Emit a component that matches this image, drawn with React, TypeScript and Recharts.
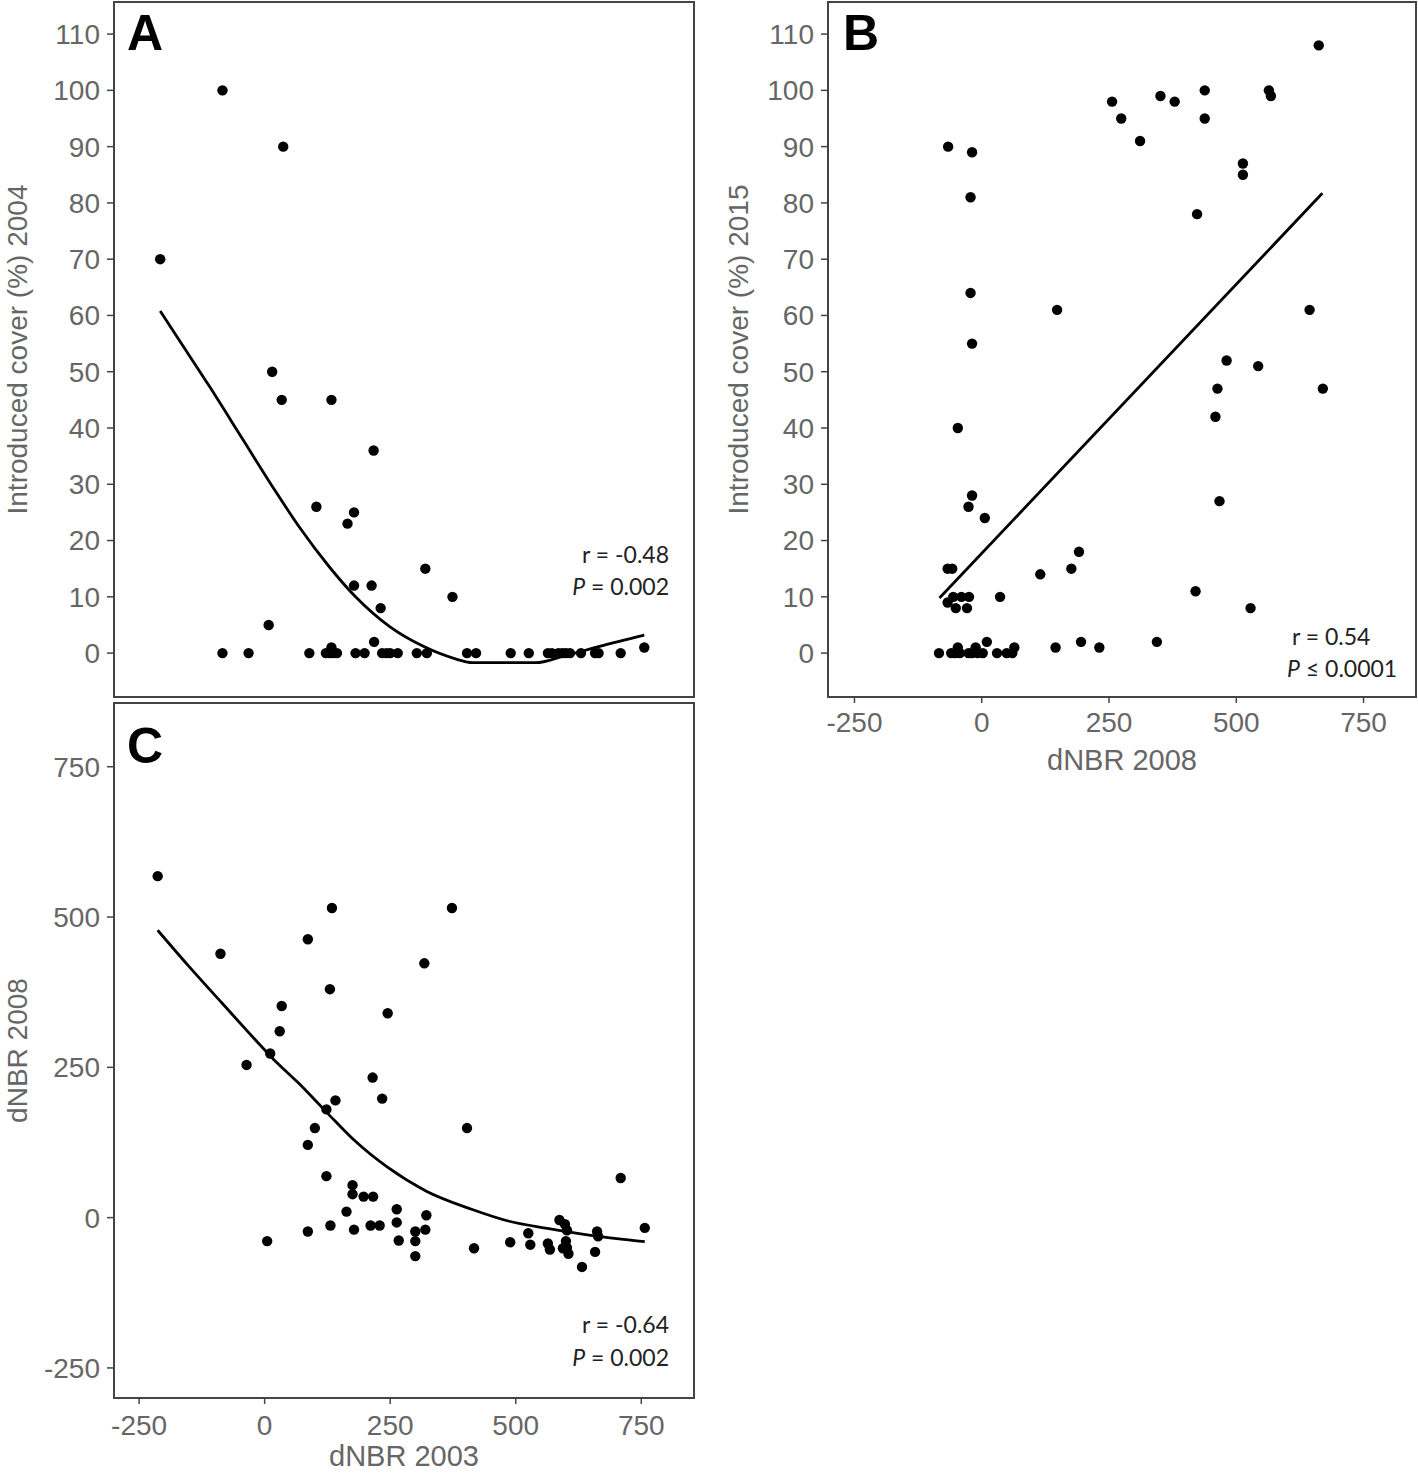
import { ScatterChart, Scatter, XAxis, YAxis, ReferenceArea } from 'recharts';

const FONT = '"Liberation Sans", Arial, sans-serif';
const GREY = '#666666';
const FRAME = '#444444';

const xTicks = [-250, 0, 250, 500, 750];
const coverTicks = [0, 10, 20, 30, 40, 50, 60, 70, 80, 90, 100, 110];
const dnbrTicks = [-250, 0, 250, 500, 750];

// A: dNBR 2003 vs introduced cover 2004
const aX = [
  -208, -84, 37, 15, 34, 133, 217, 103, 178, 165, 320, 178, 213, 374, 231, 8, 218, 133, 756,
  -84, -32, 89, 122, 129, 136, 144, 181, 199, 234, 243, 250, 265, 303, 323, 403, 421, 490,
  526, 564, 572, 585, 593, 600, 608, 630, 658, 665, 709,
];
const aY = [
  70, 100, 90, 50, 45, 45, 36, 26, 25, 23, 15, 12, 12, 10, 8, 5, 2, 1, 1,
  0, 0, 0, 0, 0, 0, 0, 0, 0, 0, 0, 0, 0, 0, 0, 0, 0, 0,
  0, 0, 0, 0, 0, 0, 0, 0, 0, 0, 0,
];
const aFitX = [-208, -170, -110, -43, 17, 69, 129, 181, 249, 316, 383, 413, 540, 593, 667, 756];
const aFitY = [60.8, 55.6, 47.4, 37.9, 29.4, 22.4, 15.3, 10, 4.7, 1.2, -1.1, -1.7, -1.7, -0.6, 1.2, 3.2];

// B: dNBR 2008 vs introduced cover 2015
const bX = [
  662, 256, 351, 379, 438, 564, 568, 274, 438, 311, -66, -19, 513, 513, -22, 423, -22, 148, 644, -19,
  481, 543, 463, 670, 459, -47, 467, -19, -26, 6, 191, 176, 115, -67, -58, 420, 528,
  -56, -40, -25, 36, -67, -51, -29, 344, 195, 10, 145, 231, 64, -47, -12,
  -84, -60, -52, -43, -26, -19, -8, 2, 30, 49, 60,
];
const bY = [
  108, 98, 99, 98, 100, 100, 99, 95, 95, 91, 90, 89, 87, 85, 81, 78, 64, 61, 61, 55,
  52, 51, 47, 47, 42, 40, 27, 28, 26, 24, 18, 15, 14, 15, 15, 11, 8,
  10, 10, 10, 10, 9, 8, 8, 2, 2, 2, 1, 1, 1, 1, 1,
  0, 0, 0, 0, 0, 0, 0, 0, 0, 0, 0,
];
const bFitX = [-83, 669];
const bFitY = [9.8, 81.7];

// C: dNBR 2003 vs dNBR 2008
const cX = [
  -213, 134, 373, 86, -88, 318, 130, 34, 245, 30, 11, -36, 215, 234, 141, 123, 100, 403, 86, 123,
  709, 175, 175, 197, 216, 163, 263, 322, 263, 131, 211, 229, 587, 598, 757, 525, 602, 662, 664,
  86, 178, 300, 320, 300, 267, 5, 489, 529, 564, 568, 600, 602, 594, 605, 417, 300, 658, 632,
];
const cY = [
  568, 515, 515, 463, 439, 423, 380, 352, 340, 310, 273, 254, 233, 198, 195, 180, 149, 149, 121, 69,
  66, 54, 39, 35, 35, 10, 14, 4, -8, -13, -13, -13, -4, -11, -17, -26, -21, -23, -31,
  -23, -20, -23, -20, -39, -38, -39, -41, -45, -43, -53, -39, -50, -51, -60, -51, -64, -57, -82,
];
const cFitX = [-213, -153, -85, -10, 17, 66, 126, 178, 246, 322, 412, 487, 563, 653, 757];
const cFitY = [478, 420, 357, 288, 264, 225, 173, 129, 83, 44, 14, -6, -18, -30, -40];

const zip = (xs: number[], ys: number[]) => xs.map((x, i) => ({ x, y: ys[i] }));

const tickStyle = { fill: GREY, fontSize: 28, fontFamily: FONT };

const dot = (p: any) => <circle cx={p.cx} cy={p.cy} r={5.2} fill="#000" />;
const noDot = () => <g />;

interface PanelProps {
  left: number;
  top: number;
  width: number;
  height: number;
  margin: { top: number; right: number; bottom: number; left: number };
  xDomain: [number, number];
  yDomain: [number, number];
  yTicks: number[];
  points: { x: number; y: number }[];
  fit: { x: number; y: number }[];
  yLabel: string;
  yLabelOffset: number;
  xLabel?: string;
  xAxisHeight?: number;
  xTickMargin?: number;
  xLabelOffset?: number;
}

function Panel(props: PanelProps) {
  const { left, top, width, height, margin, xDomain, yDomain, yTicks, points, fit } = props;
  const showX = !!props.xLabel;
  return (
    <div style={{ position: 'absolute', left, top }}>
      <ScatterChart width={width} height={height} margin={margin}>
        <XAxis
          type="number"
          dataKey="x"
          domain={xDomain}
          ticks={xTicks}
          interval={0}
          allowDataOverflow
          hide={!showX}
          height={props.xAxisHeight}
          tickSize={6}
          tickMargin={props.xTickMargin}
          tick={tickStyle}
          tickLine={{ stroke: FRAME, strokeWidth: 1.5 }}
          axisLine={false}
          label={
            showX
              ? {
                  value: props.xLabel,
                  position: 'insideBottom',
                  offset: props.xLabelOffset,
                  style: { fill: GREY, fontSize: 29, fontFamily: FONT },
                }
              : undefined
          }
        />
        <YAxis
          type="number"
          dataKey="y"
          domain={yDomain}
          ticks={yTicks}
          interval={0}
          allowDataOverflow
          width={114}
          tickSize={7}
          tickMargin={7}
          tick={tickStyle}
          tickLine={{ stroke: FRAME, strokeWidth: 1.5 }}
          axisLine={false}
          label={{
            value: props.yLabel,
            angle: -90,
            position: 'insideLeft',
            offset: props.yLabelOffset,
            style: { textAnchor: 'middle', fill: GREY, fontSize: 28, fontFamily: FONT },
          }}
        />
        <ReferenceArea
          x1={xDomain[0]}
          x2={xDomain[1]}
          y1={yDomain[0]}
          y2={yDomain[1]}
          fill="none"
          fillOpacity={0}
          stroke={FRAME}
          strokeWidth={2}
        />
        <Scatter
          data={fit}
          line={{ stroke: '#000', strokeWidth: 2.8 }}
          lineType="joint"
          lineJointType="monotoneX"
          shape={noDot}
          legendType="none"
          isAnimationActive={false}
        />
        <Scatter data={points} shape={dot} legendType="none" isAnimationActive={false} />
      </ScatterChart>
    </div>
  );
}

const statStyle = { fontFamily: 'Lato, "Liberation Sans", sans-serif', fontSize: 23, fill: '#222' };
const letterStyle = { fontFamily: FONT, fontSize: 50, fontWeight: 700, fill: '#000' };

export default function App() {
  return (
    <div
      style={{
        position: 'absolute',
        left: 0,
        top: 0,
        width: 1418,
        height: 1473,
        background: '#fff',
        overflow: 'hidden',
      }}
    >
      <Panel
        left={0}
        top={0}
        width={700}
        height={700}
        margin={{ top: 2, right: 6, bottom: 3, left: 0 }}
        xDomain={[-300, 855]}
        yDomain={[-7.8, 115.7]}
        yTicks={coverTicks}
        points={zip(aX, aY)}
        fit={zip(aFitX, aFitY)}
        yLabel="Introduced cover (%) 2004"
        yLabelOffset={17}
      />
      <Panel
        left={714}
        top={0}
        width={704}
        height={780}
        margin={{ top: 2, right: 2, bottom: 0, left: 0 }}
        xDomain={[-302, 853]}
        yDomain={[-7.8, 115.7]}
        yTicks={coverTicks}
        points={zip(bX, bY)}
        fit={zip(bFitX, bFitY)}
        yLabel="Introduced cover (%) 2015"
        yLabelOffset={24}
        xLabel="dNBR 2008"
        xAxisHeight={83}
        xTickMargin={9}
        xLabelOffset={10}
      />
      <Panel
        left={0}
        top={700}
        width={700}
        height={773}
        margin={{ top: 3, right: 6, bottom: 0, left: 0 }}
        xDomain={[-300, 855]}
        yDomain={[-300, 856]}
        yTicks={dnbrTicks}
        points={zip(cX, cY)}
        fit={zip(cFitX, cFitY)}
        yLabel="dNBR 2008"
        yLabelOffset={17}
        xLabel="dNBR 2003"
        xAxisHeight={75}
        xTickMargin={11}
        xLabelOffset={7}
      />
      <svg
        width={1418}
        height={1473}
        style={{ position: 'absolute', left: 0, top: 0, pointerEvents: 'none' }}
      >
        <text x={127} y={50} style={letterStyle}>A</text>
        <text x={843} y={50} style={letterStyle}>B</text>
        <text x={127} y={763} style={letterStyle}>C</text>

        <text x={669} y={563} textAnchor="end" style={statStyle}>r = -0.48</text>
        <text x={669} y={595} textAnchor="end" style={statStyle}>
          <tspan fontStyle="italic">P</tspan> = 0.002
        </text>

        <text x={1292} y={645} style={statStyle}>r = 0.54</text>
        <text x={1287} y={677} style={statStyle}>
          <tspan fontStyle="italic">P</tspan> ≤ 0.0001
        </text>

        <text x={669} y={1333} textAnchor="end" style={statStyle}>r = -0.64</text>
        <text x={669} y={1366} textAnchor="end" style={statStyle}>
          <tspan fontStyle="italic">P</tspan> = 0.002
        </text>
      </svg>
    </div>
  );
}
